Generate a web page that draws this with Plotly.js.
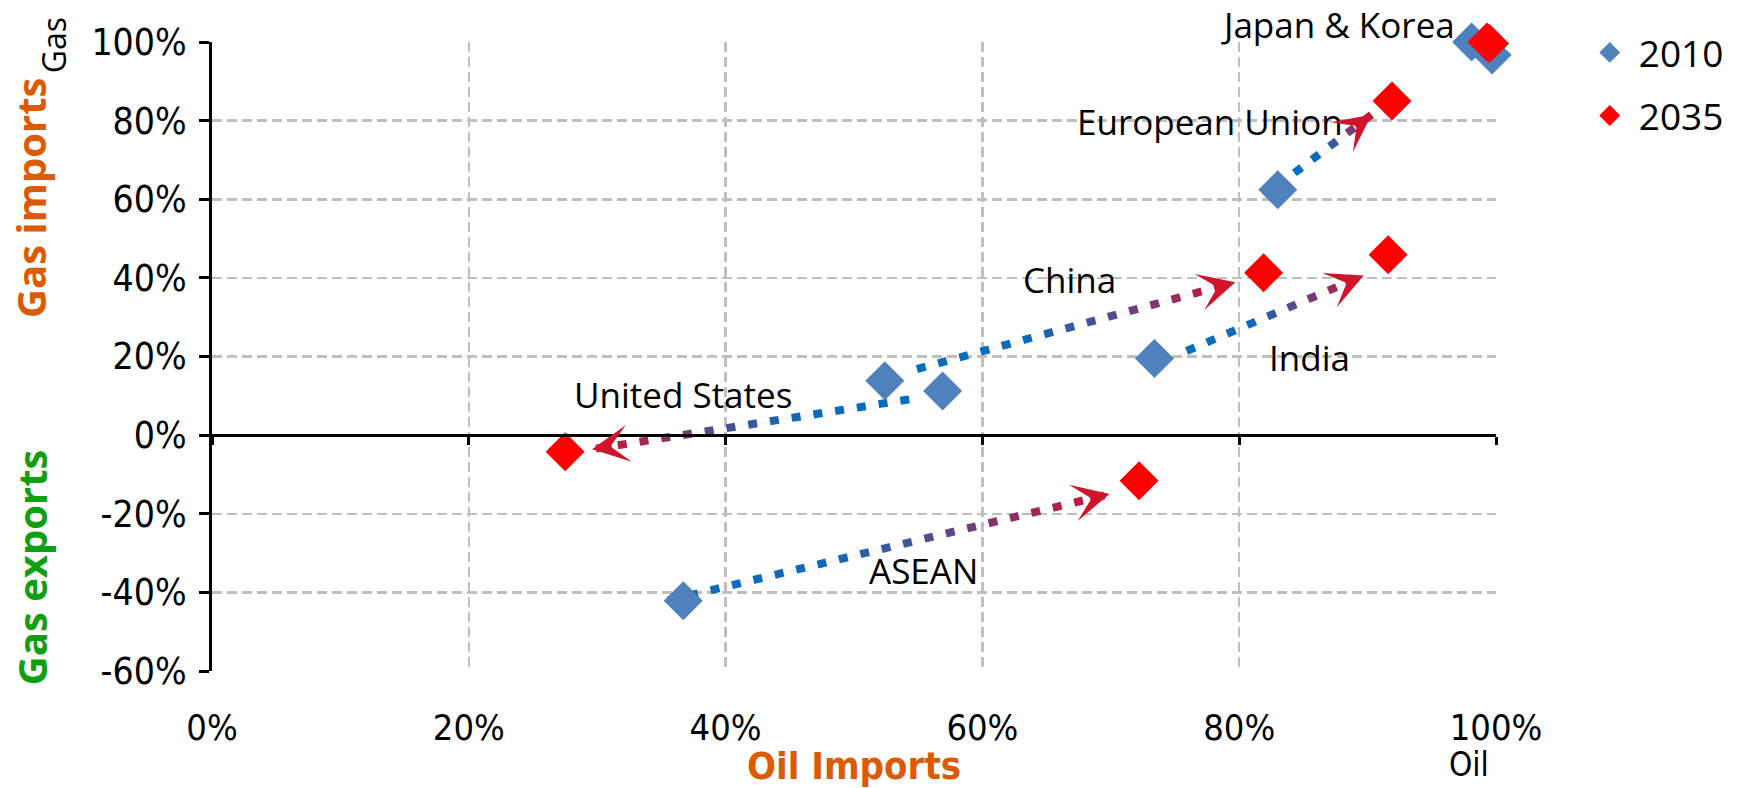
<!DOCTYPE html>
<html>
<head>
<meta charset="utf-8">
<script src="https://cdn.plot.ly/plotly-3.0.1.min.js"></script>
<style>
  html, body { margin:0; padding:0; background:#fff; }
  #chart { width:1741px; height:788px; }
</style>
</head>
<body>
<div id="chart"></div>
<script>
// ---------------- DATA ----------------
var regions2010 = ['Japan', 'Korea', 'European Union', 'China', 'India', 'United States', 'ASEAN'];
var oil2010 = [98.1, 99.7, 83.0, 52.4, 73.4, 56.9, 36.7];
var gas2010 = [100.0, 96.7, 62.4, 13.8, 19.5, 11.2, -42.1];

var regions2035 = ['Japan', 'Korea', 'European Union', 'China', 'India', 'United States', 'ASEAN'];
var oil2035 = [99.3, 99.5, 91.9, 81.9, 91.6, 27.5, 72.2];
var gas2035 = [100.0, 99.6, 85.0, 41.3, 45.9, -4.2, -11.6];

// arrows (start -> tip)
var arrowRegions = ['European Union', 'India', 'China', 'United States', 'ASEAN'];
var arrowX0 = [84.3, 75.9, 54.9, 54.3, 35.5];
var arrowY0 = [66.7, 21.4, 16.8, 9.1, -42.1];
var arrowX1 = [90.3, 89.7, 79.7, 29.6, 69.9];
var arrowY1 = [81.5, 40.6, 38.9, -3.6, -15.0];

// region labels
var labelText = ['Japan &amp; Korea', 'European Union', 'China', 'India', 'United States', 'ASEAN'];
var labelX = [97.0, 77.7, 66.8, 85.5, 36.7, 55.4];
var labelY = [100.0, 79.7, 39.6, 19.8, 10.4, -34.5];
var labelAnchor = ['right', 'center', 'center', 'center', 'center', 'center'];

// axes
var xTicks = [0, 20, 40, 60, 80, 100];
var xTickText = ['0%', '20%', '40%', '60%', '80%', '100%'];
var yTicks = [-60, -40, -20, 0, 20, 40, 60, 80, 100];
var yTickText = ['-60%', '-40%', '-20%', '0%', '20%', '40%', '60%', '80%', '100%'];

// ---------------- STYLE ----------------
var NARROW = '"Liberation Sans Narrow", "DejaVu Sans Condensed", "Arial Narrow", sans-serif';
var NARROWB = '"DejaVu Sans Condensed", "Liberation Sans Narrow", sans-serif';
var SANS = '"Open Sans", "Noto Sans", sans-serif';
var ORANGE = '#DD5A05';
var GREEN = '#109F10';
var GRID = '#BFBFBF';

var data = [];

// dotted arrow shafts
arrowRegions.forEach(function (name, i) {
  data.push({
    type: 'scatter', mode: 'lines',
    x: [arrowX0[i], arrowX1[i]], y: [arrowY0[i], arrowY1[i]],
    line: { color: '#5A4A8A', width: 8, dash: '9px,13px' },
    uid: 'arrow' + i, name: name,
    showlegend: false, hoverinfo: 'skip', cliponaxis: false
  });
});

data.push({
  type: 'scatter', mode: 'markers', name: '2010',
  x: oil2010, y: gas2010, text: regions2010,
  marker: { symbol: 'diamond', size: 30, color: '#4F81BD', line: { width: 0 } },
  legendgroup: 'a', cliponaxis: false
});
data.push({
  type: 'scatter', mode: 'markers', name: '2035',
  x: oil2035, y: gas2035, text: regions2035,
  marker: { symbol: 'diamond', size: 30, color: '#FF0000', line: { width: 0 } },
  legendgroup: 'b', cliponaxis: false
});
// dummy trace to activate the zero-line axis
data.push({ type: 'scatter', x: [], y: [], xaxis: 'x2', yaxis: 'y', showlegend: false, hoverinfo: 'skip' });

var annotations = [];
labelText.forEach(function (t, i) {
  var top = (i === 0);
  annotations.push({
    x: labelX[i], y: labelY[i], xref: 'x', yref: 'y', text: t, showarrow: false,
    xanchor: labelAnchor[i], yanchor: top ? 'bottom' : 'middle', yshift: top ? -8 : 0,
    font: { family: SANS, size: 35, color: '#000' }
  });
});
// arrow heads
arrowRegions.forEach(function (name, i) {
  annotations.push({
    x: arrowX1[i], y: arrowY1[i], ax: arrowX0[i], ay: arrowY0[i],
    xref: 'x', yref: 'y', axref: 'x', ayref: 'y', text: '',
    showarrow: true, arrowhead: 3, arrowsize: 62, arrowwidth: 0.1,
    arrowcolor: '#D0142C', standoff: 0
  });
});
// axis side titles
annotations.push({ xref: 'paper', yref: 'paper', x: -0.141, y: 0.752, text: '<b>Gas imports</b>',
  textangle: -90, showarrow: false, xanchor: 'center', yanchor: 'middle',
  font: { family: SANS, size: 40, color: ORANGE } });
annotations.push({ xref: 'paper', yref: 'paper', x: -0.141, y: 0.165, text: '<b>Gas exports</b>',
  textangle: -90, showarrow: false, xanchor: 'center', yanchor: 'middle',
  font: { family: SANS, size: 40, color: GREEN } });
annotations.push({ xref: 'paper', yref: 'paper', x: -0.1237, y: 0.995, text: 'Gas',
  textangle: -90, showarrow: false, xanchor: 'center', yanchor: 'middle',
  font: { family: SANS, size: 32, color: '#000' } });
annotations.push({ xref: 'paper', yref: 'paper', x: 0.9615, y: -0.148, text: 'Oil',
  showarrow: false, xanchor: 'left', yanchor: 'middle',
  font: { family: NARROW, size: 33, color: '#000' } });

var layout = {
  width: 1741, height: 788,
  margin: { l: 212, r: 245, t: 42, b: 117, pad: 0 },
  paper_bgcolor: '#fff', plot_bgcolor: '#fff',
  showlegend: true,
  legend: {
    x: 1.066, xanchor: 'left', y: 1.032, yanchor: 'top',
    font: { family: SANS, size: 37, color: '#000' },
    tracegroupgap: 12, itemwidth: 48, bgcolor: 'rgba(0,0,0,0)'
  },
  xaxis: {
    range: [0, 100], tickmode: 'array', tickvals: xTicks, ticktext: xTickText,
    showgrid: true, gridcolor: GRID, griddash: '10px,5px', gridwidth: 2.5,
    showline: false, zeroline: false, ticks: '',
    ticklabelstandoff: 32,
    tickfont: { family: NARROW, size: 36, color: '#000' },
    title: { text: '<b>Oil Imports</b>', font: { family: NARROWB, size: 38, color: ORANGE }, standoff: 0 }
  },
  xaxis2: {
    overlaying: 'x', matches: 'x', anchor: 'free', position: 0.375, side: 'bottom',
    range: [0, 100], tickmode: 'array', tickvals: xTicks,
    showline: true, linecolor: '#000', linewidth: 3,
    ticks: 'outside', ticklen: 8, tickwidth: 3, tickcolor: '#000',
    showticklabels: false, showgrid: false, zeroline: false
  },
  yaxis: {
    range: [-60, 100], tickmode: 'array', tickvals: yTicks, ticktext: yTickText,
    showgrid: true, gridcolor: GRID, griddash: '10px,5px', gridwidth: 2.5,
    showline: true, linecolor: '#000', linewidth: 3,
    ticks: 'outside', ticklen: 10, tickwidth: 3, tickcolor: '#000',
    zeroline: false, ticklabelstandoff: 5,
    tickfont: { family: NARROW, size: 37, color: '#000' }
  },
  annotations: annotations
};

var gd = document.getElementById('chart');
Plotly.newPlot(gd, data, layout, { staticPlot: true, displayModeBar: false }).then(function () {
  var NS = 'http://www.w3.org/2000/svg';
  var xa = gd._fullLayout.xaxis, ya = gd._fullLayout.yaxis;
  var svg = gd.querySelector('svg.main-svg');
  var defs = svg.querySelector('defs');
  if (!defs) { defs = document.createElementNS(NS, 'defs'); svg.insertBefore(defs, svg.firstChild); }
  var stops = [[0, '#0070C0'], [0.35, '#0B6BBA'], [0.6, '#4E4F90'], [0.82, '#9A2A5A'], [1, '#D0142C']];
  arrowRegions.forEach(function (name, i) {
    var id = 'arrowgrad' + i;
    var g = document.createElementNS(NS, 'linearGradient');
    g.setAttribute('id', id);
    g.setAttribute('gradientUnits', 'userSpaceOnUse');
    g.setAttribute('x1', xa.l2p(arrowX0[i]));
    g.setAttribute('y1', ya.l2p(arrowY0[i]));
    g.setAttribute('x2', xa.l2p(arrowX1[i]));
    g.setAttribute('y2', ya.l2p(arrowY1[i]));
    stops.forEach(function (s) {
      var st = document.createElementNS(NS, 'stop');
      st.setAttribute('offset', s[0]);
      st.setAttribute('stop-color', s[1]);
      g.appendChild(st);
    });
    defs.appendChild(g);
    var path = gd.querySelector('.scatterlayer .tracearrow' + i + ' path.js-line');
    if (path) path.style.stroke = 'url(#' + id + ')';
  });
});
</script>
</body>
</html>
